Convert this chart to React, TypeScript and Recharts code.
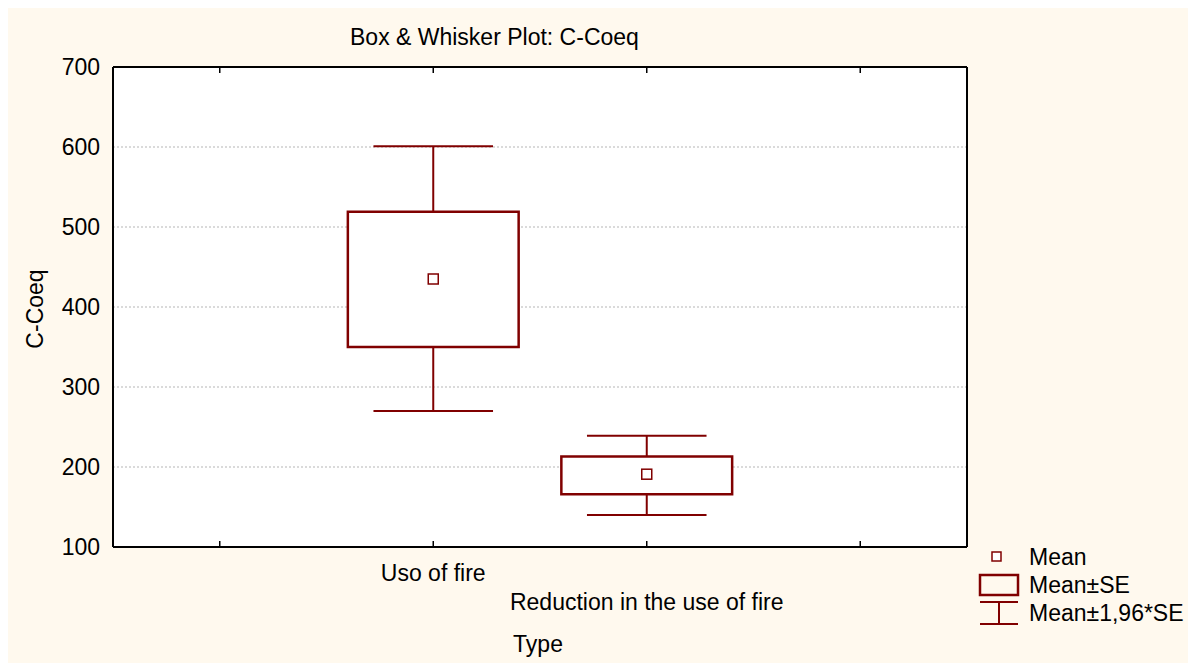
import React from 'react';
import {
  ComposedChart,
  XAxis,
  YAxis,
  CartesianGrid,
  ReferenceArea,
  ReferenceLine,
  Scatter,
} from 'recharts';

const positions = [1, 2, 3, 4];
const categoryLabels = ['', 'Uso of fire', 'Reduction in the use of fire', ''];
const groupPos = [2, 3];
const means = [435, 191];
const seLow = [350, 166];
const seHigh = [519, 213];
const ciLow = [270, 140];
const ciHigh = [601, 239];
const yTicks = [100, 200, 300, 400, 500, 600, 700];
const gridTicks = [200, 300, 400, 500, 600];

const RED = '#800000';
const FONT = '"Liberation Sans", Arial, sans-serif';
const FS = 23;

const rows = positions.map((p, i) => ({ pos: p, label: categoryLabels[i] }));
const meanRows = groupPos.map((p, i) => ({ pos: p, mean: means[i] }));

const BottomTick = (props: any) => {
  const { x, y, payload } = props;
  const i = positions.indexOf(payload.value);
  const label = categoryLabels[i];
  const dy = i % 2 === 1 ? 34 : 63;
  return (
    <g>
      <line x1={x} x2={x} y1={y} y2={y - 6} stroke="#000" strokeWidth={1.5} />
      {label ? (
        <text x={x} y={y + dy} textAnchor="middle" fontFamily={FONT} fontSize={FS} fill="#000">
          {label}
        </text>
      ) : null}
    </g>
  );
};

const TopTick = (props: any) => {
  const { x, y } = props;
  return <line x1={x} x2={x} y1={y} y2={y + 6} stroke="#000" strokeWidth={1.5} />;
};

const RightTick = (props: any) => {
  const { x, y } = props;
  return <line x1={x} x2={x - 6} y1={y} y2={y} stroke="#000" strokeWidth={1.5} />;
};

const MeanSquare = (props: any) => {
  const { cx, cy } = props;
  return <rect x={cx - 5} y={cy - 5} width={10} height={10} fill="#fff" stroke={RED} strokeWidth={1.5} />;
};

const App: React.FC = () => {
  return (
    <div style={{ position: 'relative', width: 1188, height: 655, background: '#FFF9EE', fontFamily: FONT }}>
      <ComposedChart width={1188} height={655} data={rows} margin={{ top: 58, right: 228, bottom: 0, left: 0 }}>
        <CartesianGrid
          xAxisId="b"
          yAxisId="l"
          vertical={false}
          horizontalValues={gridTicks}
          fill="#fff"
          stroke="#b5b5b5"
          strokeDasharray="2 2"
        />
        <XAxis
          xAxisId="b"
          type="number"
          dataKey="pos"
          domain={[0.5, 4.5]}
          ticks={positions}
          interval={0}
          height={116}
          tickSize={0}
          tickMargin={0}
          axisLine={{ stroke: '#000', strokeWidth: 2 }}
          tick={<BottomTick />}
        />
        <XAxis
          xAxisId="t"
          orientation="top"
          type="number"
          dataKey="pos"
          domain={[0.5, 4.5]}
          ticks={positions}
          interval={0}
          height={1}
          tickSize={0}
          tickMargin={0}
          axisLine={{ stroke: '#000', strokeWidth: 2 }}
          tick={<TopTick />}
        />
        <YAxis
          yAxisId="l"
          width={105}
          domain={[100, 700]}
          ticks={yTicks}
          interval={0}
          tickSize={0}
          tickMargin={13}
          axisLine={{ stroke: '#000', strokeWidth: 2 }}
          tick={{ fill: '#000', fontSize: FS, fontFamily: FONT }}
        />
        <YAxis
          yAxisId="r"
          orientation="right"
          width={1}
          domain={[100, 700]}
          ticks={yTicks}
          interval={0}
          tickSize={0}
          tickMargin={0}
          axisLine={{ stroke: '#000', strokeWidth: 2 }}
          tick={<RightTick />}
        />
        {groupPos.map((p, i) => (
          <ReferenceArea
            key={`box-${i}`}
            xAxisId="b"
            yAxisId="l"
            x1={p - 0.4}
            x2={p + 0.4}
            y1={seLow[i]}
            y2={seHigh[i]}
            fill="#fff"
            fillOpacity={1}
            stroke={RED}
            strokeWidth={2.5}
            ifOverflow="visible"
          />
        ))}
        {groupPos.map((p, i) => (
          <ReferenceLine
            key={`up-${i}`}
            xAxisId="b"
            yAxisId="l"
            segment={[{ x: p, y: seHigh[i] }, { x: p, y: ciHigh[i] }]}
            stroke={RED}
            strokeWidth={2}
          />
        ))}
        {groupPos.map((p, i) => (
          <ReferenceLine
            key={`dn-${i}`}
            xAxisId="b"
            yAxisId="l"
            segment={[{ x: p, y: seLow[i] }, { x: p, y: ciLow[i] }]}
            stroke={RED}
            strokeWidth={2}
          />
        ))}
        {groupPos.map((p, i) => (
          <ReferenceLine
            key={`capu-${i}`}
            xAxisId="b"
            yAxisId="l"
            segment={[{ x: p - 0.28, y: ciHigh[i] }, { x: p + 0.28, y: ciHigh[i] }]}
            stroke={RED}
            strokeWidth={2}
          />
        ))}
        {groupPos.map((p, i) => (
          <ReferenceLine
            key={`capd-${i}`}
            xAxisId="b"
            yAxisId="l"
            segment={[{ x: p - 0.28, y: ciLow[i] }, { x: p + 0.28, y: ciLow[i] }]}
            stroke={RED}
            strokeWidth={2}
          />
        ))}
        <Scatter
          xAxisId="b"
          yAxisId="l"
          data={meanRows}
          dataKey="mean"
          shape={<MeanSquare />}
          isAnimationActive={false}
        />
      </ComposedChart>

      <div style={{ position: 'absolute', left: 342, top: 16, fontSize: FS, color: '#000', whiteSpace: 'nowrap' }}>
        Box &amp; Whisker Plot: C-Coeq
      </div>
      <div
        style={{
          position: 'absolute',
          left: 27,
          top: 301,
          transform: 'translate(-50%, -50%) rotate(-90deg)',
          fontSize: FS,
          color: '#000',
          whiteSpace: 'nowrap',
        }}
      >
        C-Coeq
      </div>
      <div
        style={{
          position: 'absolute',
          left: 530,
          top: 636,
          transform: 'translate(-50%, -50%)',
          fontSize: FS,
          color: '#000',
          whiteSpace: 'nowrap',
        }}
      >
        Type
      </div>

      <div style={{ position: 'absolute', left: 966, top: 535, fontSize: FS, color: '#000' }}>
        <div style={{ display: 'flex', alignItems: 'center', height: 28 }}>
          <svg width={50} height={28}>
            <rect x={18} y={9} width={9} height={9} fill="#fff" stroke={RED} strokeWidth={1.5} />
          </svg>
          <span style={{ marginLeft: 5 }}>Mean</span>
        </div>
        <div style={{ display: 'flex', alignItems: 'center', height: 28 }}>
          <svg width={50} height={28}>
            <rect x={6} y={4} width={38} height={20} fill="none" stroke={RED} strokeWidth={2.5} />
          </svg>
          <span style={{ marginLeft: 5 }}>Mean±SE</span>
        </div>
        <div style={{ display: 'flex', alignItems: 'center', height: 28 }}>
          <svg width={50} height={28}>
            <line x1={6} x2={44} y1={3} y2={3} stroke={RED} strokeWidth={2} />
            <line x1={25} x2={25} y1={3} y2={25} stroke={RED} strokeWidth={2} />
            <line x1={6} x2={44} y1={25} y2={25} stroke={RED} strokeWidth={2} />
          </svg>
          <span style={{ marginLeft: 5 }}>Mean±1,96*SE</span>
        </div>
      </div>
    </div>
  );
};

export default App;
